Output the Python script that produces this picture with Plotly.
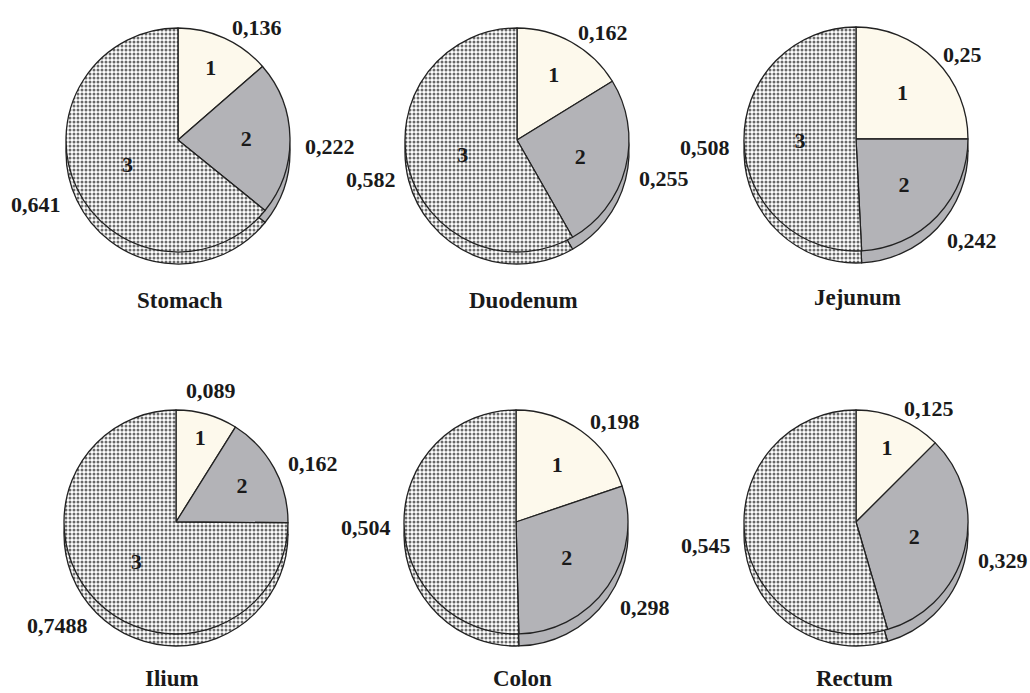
import plotly.graph_objects as go

# Share of each fraction (1, 2, 3) per gut segment
segments = ["Stomach", "Duodenum", "Jejunum", "Ilium", "Colon", "Rectum"]
fraction_1 = [0.136, 0.162, 0.25, 0.089, 0.198, 0.125]
fraction_2 = [0.222, 0.255, 0.242, 0.162, 0.298, 0.329]
fraction_3 = [0.641, 0.582, 0.508, 0.7488, 0.504, 0.545]
slice_numbers = [
    ["1", "2", "3"],
    ["1", "2", "3"],
    ["1", "2", "3"],
    ["1", "2", "3"],
    ["1", "2", ""],
    ["1", "2", ""],
]

# ---- layout (pixels) ----
W, H = 1030, 693
R = 112            # pie radius
DEPTH = 12         # offset of the rim drawn under each pie
centers = [(178, 140), (517, 140), (856, 139), (176, 522), (516, 522), (856, 522)]
title_pos = [(180, 300), (523, 300), (857, 298), (172, 678), (522, 678), (854, 678)]
# value label positions for fractions 1, 2, 3
value_pos = [
    [(257, 27), (330, 146), (36, 205)],
    [(603, 32), (664, 178), (371, 180)],
    [(962, 55), (972, 240), (705, 148)],
    [(211, 390), (313, 463), (57, 625)],
    [(615, 422), (645, 607), (366, 527)],
    [(929, 408), (1003, 560), (706, 545)],
]

FILL = ["#fdf9ec", "#b3b3b7", "#ffffff"]
FONT = "Liberation Serif, Times New Roman, serif"
INK = "#1a1a1a"


def domain(cx, cy, r, dy=0):
    return dict(
        x=[(cx - r) / W, (cx + r) / W],
        y=[1 - (cy + dy + r) / H, 1 - (cy + dy - r) / H],
    )


def pie(values, cx, cy, dy=0, text=None):
    return go.Pie(
        values=values,
        labels=["1", "2", "3"],
        sort=False,
        direction="clockwise",
        rotation=0,
        domain=domain(cx, cy, R, dy),
        marker=dict(
            colors=FILL,
            line=dict(color="#222222", width=1.3),
            pattern=dict(shape=["", "", "."], fgcolor="#6a6a6a",
                         size=4, solidity=0.45),
        ),
        text=text if text is not None else ["", "", ""],
        textinfo="text",
        textposition="inside",
        insidetextorientation="horizontal",
        textfont=dict(family=FONT, size=22, color=INK, weight="bold"),
        hoverinfo="skip" if text is None else "label+value",
        showlegend=False,
    )


fig = go.Figure()
annotations = []
for i, name in enumerate(segments):
    vals = [fraction_1[i], fraction_2[i], fraction_3[i]]
    cx, cy = centers[i]
    # lower rim gives the disc a little thickness
    fig.add_trace(pie(vals, cx, cy, dy=DEPTH))
    fig.add_trace(pie(vals, cx, cy, text=slice_numbers[i]))

    for v, (px, py) in zip(vals, value_pos[i]):
        annotations.append(dict(
            x=px / W, y=1 - py / H, xref="paper", yref="paper",
            text=str(v).replace(".", ","), showarrow=False,
            xanchor="center", yanchor="middle",
            font=dict(family=FONT, size=22, color=INK, weight="bold"),
        ))
    tx, ty = title_pos[i]
    annotations.append(dict(
        x=tx / W, y=1 - ty / H, xref="paper", yref="paper",
        text=name, showarrow=False, xanchor="center", yanchor="middle",
        font=dict(family=FONT, size=23, color=INK, weight="bold"),
    ))

fig.update_layout(
    width=W, height=H,
    margin=dict(l=0, r=0, t=0, b=0),
    paper_bgcolor="white", plot_bgcolor="white",
    annotations=annotations,
)

fig.write_html("out.html")
